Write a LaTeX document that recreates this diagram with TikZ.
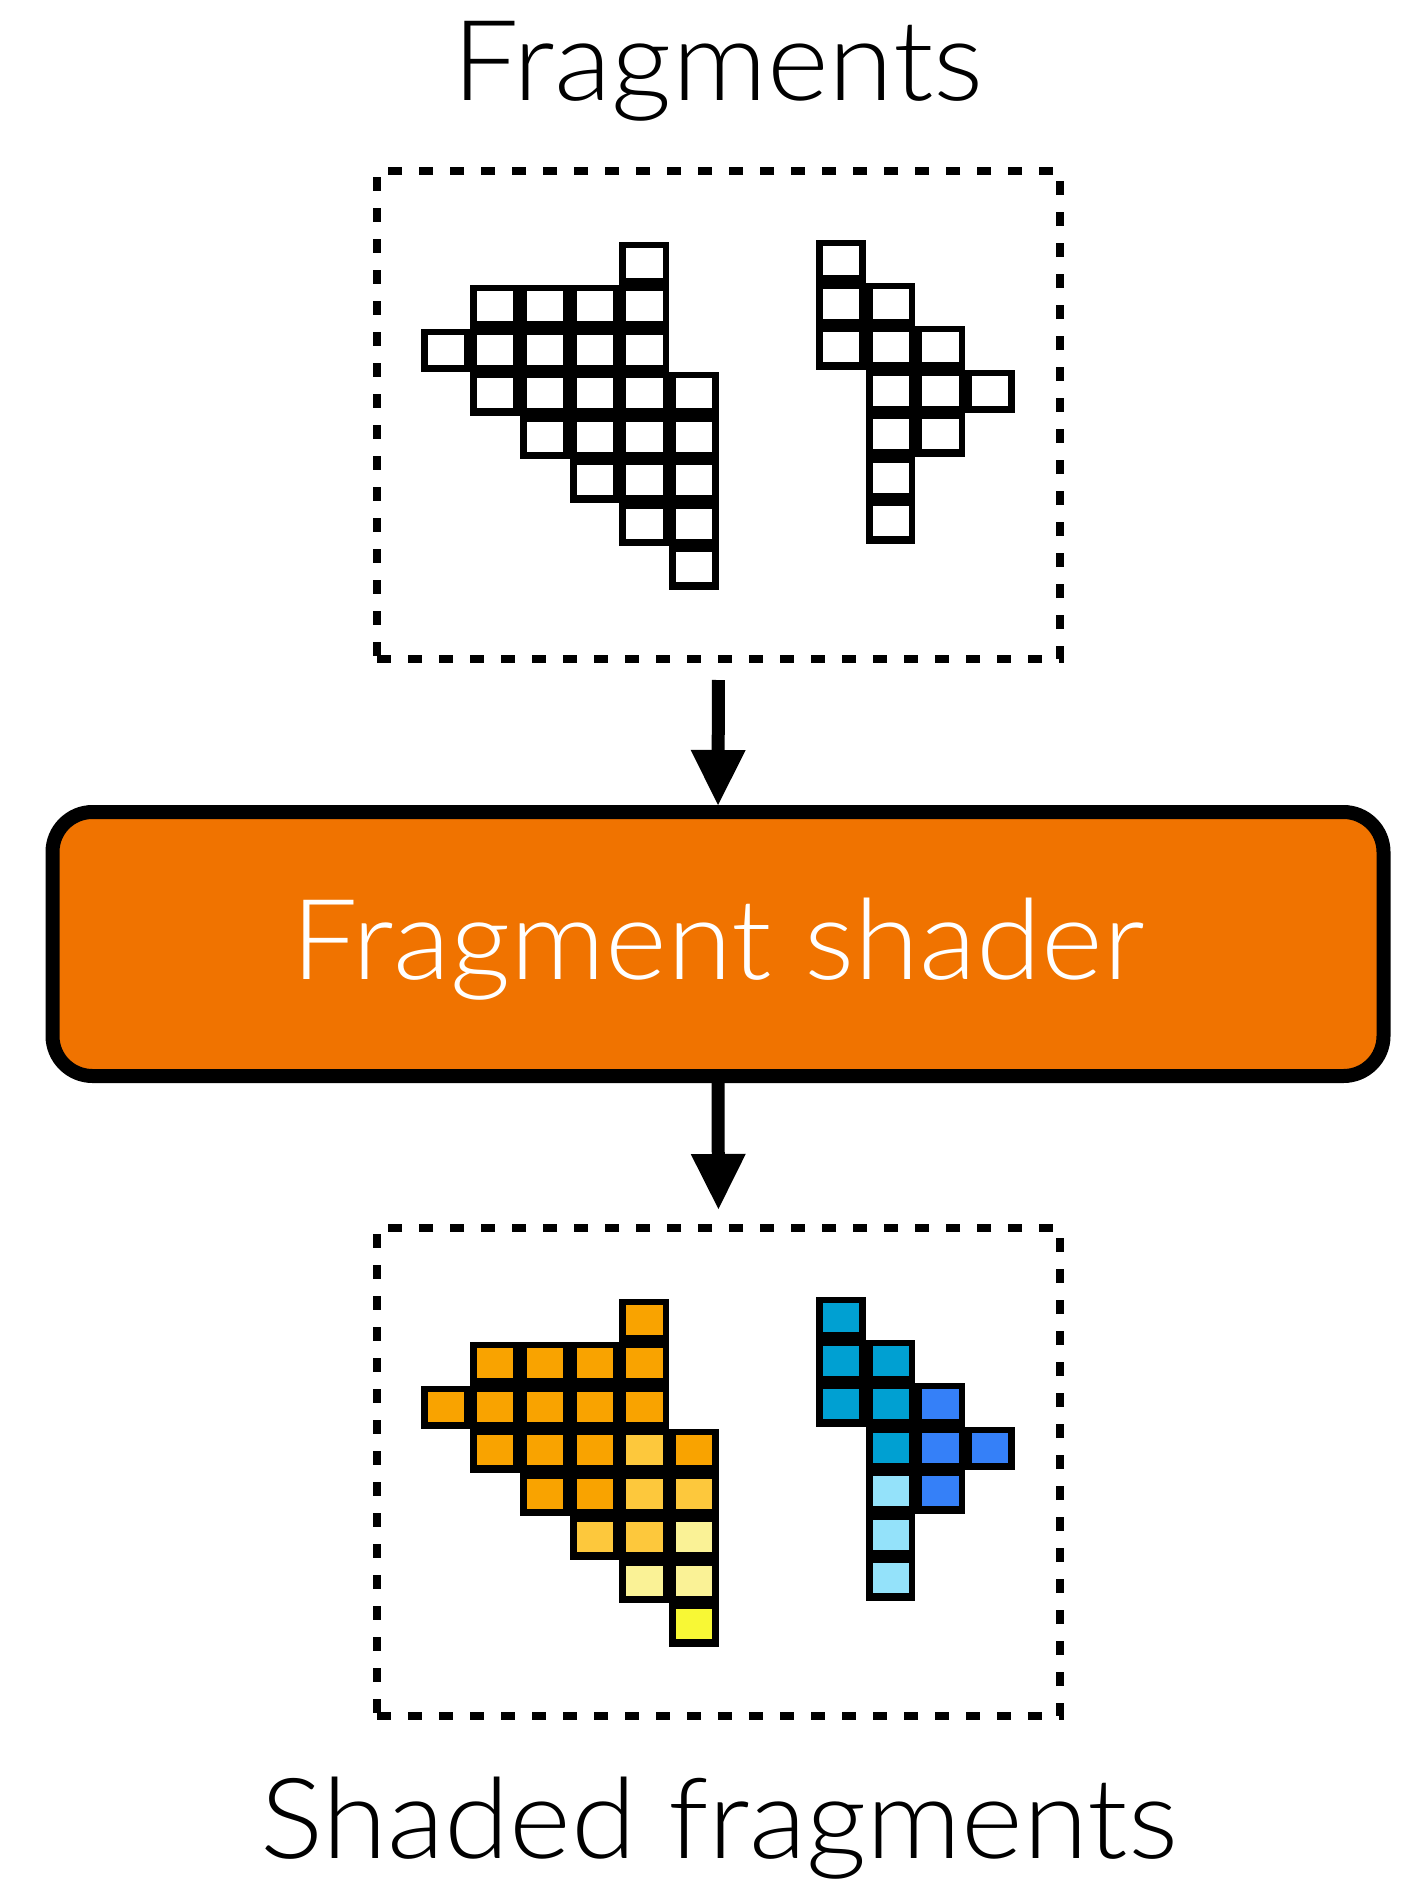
\documentclass[tikz,border=0pt]{standalone}
\usepackage{fontspec}
\setmainfont{Lato}[UprightFont={* Light}, FakeStretch=1.055]
\usetikzlibrary{arrows.meta}

\definecolor{shaderorange}{HTML}{F07300}
\definecolor{fragorange}{HTML}{F9A300}
\definecolor{fraggold}{HTML}{FDC83C}
\definecolor{fragpale}{HTML}{FAF296}
\definecolor{fragyellow}{HTML}{F8F835}
\definecolor{fragteal}{HTML}{00A0D2}
\definecolor{fragblue}{HTML}{3580F8}
\definecolor{fragsky}{HTML}{94E2FA}

% one pixel cell of a fragment: black frame with a coloured centre
\newcommand{\cellw}{49.7}
\newcommand{\cellh}{43.45}
\newcommand{\fragcell}[3]{%
  \fill[black] ({#1*\cellw},{#2*\cellh}) rectangle ({(#1+1)*\cellw},{(#2+1)*\cellh});
  \fill[#3] ({#1*\cellw+7},{#2*\cellh+6}) rectangle ({(#1+1)*\cellw-6.5},{(#2+1)*\cellh-7.5});
}

\begin{document}
\begin{tikzpicture}[x=1pt,y=-1pt,
  dashbox/.style={draw, line width=8pt, dash pattern=on 14pt off 17pt,
    minimum width=683pt, minimum height=488pt, inner sep=0pt, outer sep=0pt},
  shaderbox/.style={draw, line width=14pt, fill=shaderorange, rounded corners=40pt,
    minimum width=1331pt, minimum height=264pt, inner sep=0pt, outer sep=7pt,
    text=white, font=\fontsize{112}{120}\selectfont, text height=70pt, text depth=0pt},
  flow/.style={line width=13pt, -{Triangle[length=55pt,width=55pt,line width=0pt]}},
  caption/.style={font=\fontsize{112}{120}\selectfont, anchor=base, inner sep=0pt}
]
\fill[white] (0,0) rectangle (1404,1884);
\useasboundingbox (0,0) rectangle (1404,1884);

% titles
\node[caption] (toptitle) at (718,100) {Fragments};
\node[caption] (bottitle) at (719,1858) {Shaded fragments};

% frames and the shader stage
\node[dashbox] (frags) at (718.5,415) {};
\node[dashbox] (shaded) at (718.5,1472) {};
\node[shaderbox] (shader) at (718,944) {Fragment shader};

% data flow
\draw[flow, shorten <=21pt] (frags.south) -- (shader.north);
\draw[flow, shorten >=19pt] (shader.south) -- (shaded.north);

% input fragments (unshaded)
\begin{scope}[shift={(420.5,242)}]
  \foreach \c/\r in {4/0, 1/1,2/1,3/1,4/1, 0/2,1/2,2/2,3/2,4/2,
      1/3,2/3,3/3,4/3,5/3, 2/4,3/4,4/4,5/4, 3/5,4/5,5/5, 4/6,5/6, 5/7}
    {\fragcell{\c}{\r}{white}}
\end{scope}
\begin{scope}[shift={(816,239.5)}]
  \foreach \c/\r in {0/0, 0/1,1/1, 0/2,1/2,2/2, 1/3,2/3,3/3, 1/4,2/4, 1/5, 1/6}
    {\fragcell{\c}{\r}{white}}
\end{scope}

% shaded fragments
\begin{scope}[shift={(420.5,1299)}]
  \foreach \c/\r/\k in {4/0/fragorange,
      1/1/fragorange,2/1/fragorange,3/1/fragorange,4/1/fragorange,
      0/2/fragorange,1/2/fragorange,2/2/fragorange,3/2/fragorange,4/2/fragorange,
      1/3/fragorange,2/3/fragorange,3/3/fragorange,4/3/fraggold,5/3/fragorange,
      2/4/fragorange,3/4/fragorange,4/4/fraggold,5/4/fraggold,
      3/5/fraggold,4/5/fraggold,5/5/fragpale,
      4/6/fragpale,5/6/fragpale,
      5/7/fragyellow}
    {\fragcell{\c}{\r}{\k}}
\end{scope}
\begin{scope}[shift={(816,1296.5)}]
  \foreach \c/\r/\k in {0/0/fragteal,
      0/1/fragteal,1/1/fragteal,
      0/2/fragteal,1/2/fragteal,2/2/fragblue,
      1/3/fragteal,2/3/fragblue,3/3/fragblue,
      1/4/fragsky,2/4/fragblue,
      1/5/fragsky,
      1/6/fragsky}
    {\fragcell{\c}{\r}{\k}}
\end{scope}
\end{tikzpicture}
\end{document}
